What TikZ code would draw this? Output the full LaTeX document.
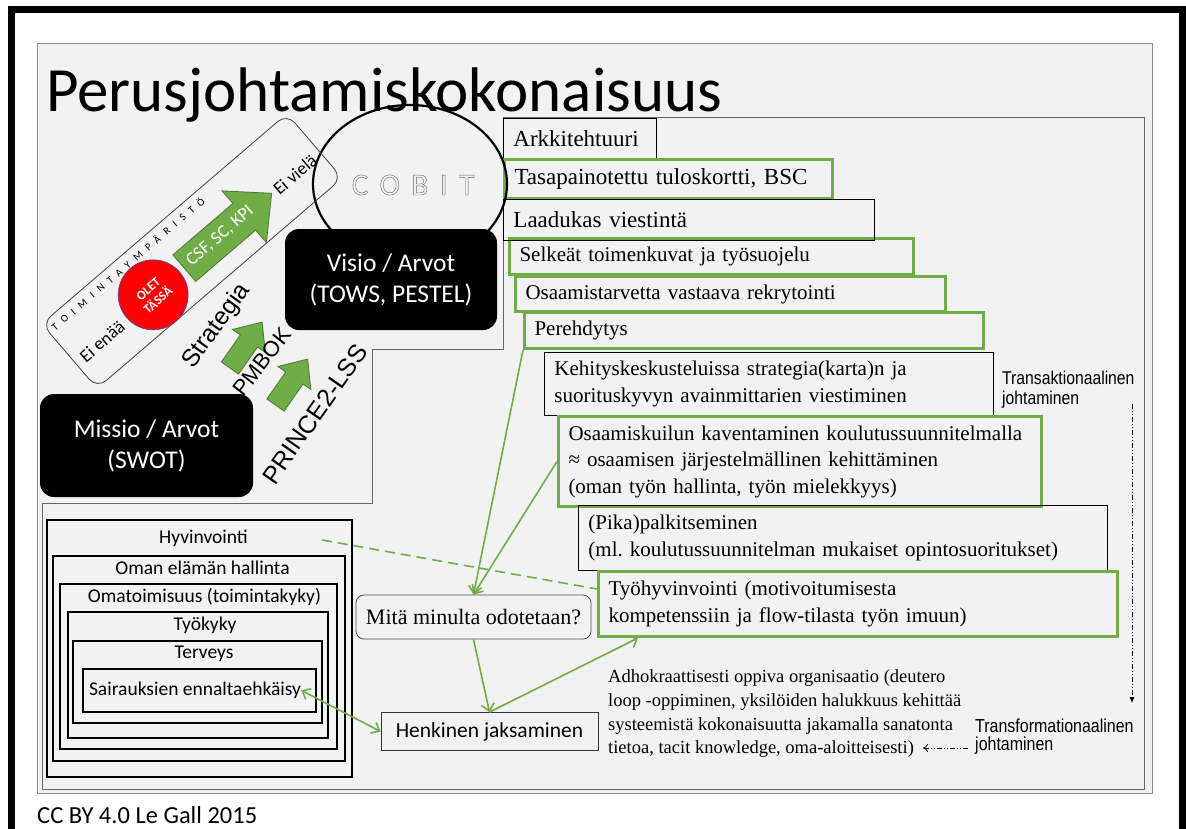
\documentclass[tikz,border=0pt]{standalone}
\usepackage{fontspec}
\setmainfont{Liberation Serif}
\newfontfamily\calibri{Carlito}
\newfontfamily\arial{Liberation Sans}
\newfontfamily\narrowsans[FakeStretch=0.85]{Liberation Sans}
\newfontfamily\spreadfont[LetterSpace=63]{Carlito}
\newfontfamily\cobitfont[LetterSpace=37]{Carlito}
\newcommand\hollow[1]{\special{pdf:literal direct 1 Tr}#1\special{pdf:literal direct 0 Tr}}
\frenchspacing
\usetikzlibrary{arrows.meta,positioning,shapes}
\definecolor{panel}{HTML}{F2F2F2}
\definecolor{ogreen}{HTML}{70AD47}
\definecolor{dgreen}{HTML}{507E32}
\definecolor{frame}{HTML}{8C8C8C}

\begin{document}
\begin{tikzpicture}[x=1pt,y=-1pt,
    stair/.style={draw=black, line width=0.9pt, anchor=north west, inner xsep=10pt, inner ysep=0pt, align=left},
    gstair/.style={stair, draw=ogreen, line width=3pt},
    big/.style={font=\fontsize{23}{27}\selectfont},
    mid/.style={font=\fontsize{21}{26.5}\selectfont},
    blackbox/.style={fill=black, rounded corners=14pt, text=white, align=center, font=\calibri\fontsize{25.5}{31}\selectfont},
    nest/.style={draw=black, line width=2.2pt},
    nesttext/.style={anchor=base, inner sep=0pt, font=\calibri\fontsize{19.5}{23}\selectfont},
    blockarrow/.style={fill=ogreen, draw=dgreen, line width=0.9pt},
    gline/.style={draw=ogreen, line width=1.6pt},
    garrow/.style={gline, -{Straight Barb[length=7pt,width=13pt]}},
    dashdot/.style={line width=0.7pt, dash pattern=on 5pt off 2pt on 1pt off 2pt on 1pt off 2pt},
    note/.style={font=\narrowsans\fontsize{18.5}{20}\selectfont, align=left, anchor=west, inner sep=0pt}]

    \clip (0,0) rectangle (1186,828);
    \fill[white] (0,0) rectangle (1186,828);
    \draw[line width=7pt] (11,840) -- (11,9) -- (1182,9) -- (1182,840);

    % panels
    \draw[frame, fill=panel, line width=0.9pt] (37,43) rectangle (1152,793);
    \draw[black!60, line width=0.9pt] (503,117) -- (1144,117) -- (1144,789) -- (42,789) -- (42,503) -- (372,503) -- (372,349) -- (503,349) -- cycle;

    \node[anchor=base west, inner sep=0pt, font=\calibri\fontsize{63}{70}\selectfont] (title) at (46,111) {Perusjohtamiskokonaisuus};

    % staircase
    \node[stair, big, text width=133pt, minimum height=40pt] (arkk) at (503,118) {Arkkitehtuuri};
    \node[gstair, big, text width=308pt, minimum height=39pt] (bsc) at (503,158) {Tasapainotettu tuloskortti, BSC};
    \node[gstair, mid, text width=384pt, minimum height=36pt] (selk) at (508,237) {Selkeät toimenkuvat ja työsuojelu};
    \node[stair, big, text width=351pt, minimum height=41pt] (laad) at (503,199) {Laadukas viestintä};
    \node[gstair, mid, text width=410pt, minimum height=35pt] (rekr) at (514,275) {Osaamistarvetta vastaava rekrytointi};
    \node[gstair, mid, text width=439pt, minimum height=36pt] (pereh) at (523,311) {Perehdytys};
    \node[stair, mid, text width=429pt, minimum height=63pt] (kehi) at (544,352) {Kehityskeskusteluissa strategia(karta)n ja\\suorituskyvyn avainmittarien viestiminen};
    \node[gstair, mid, text width=463pt, minimum height=90pt] (osk) at (557,415) {Osaamiskuilun kaventaminen koulutussuunnitelmalla\\≈ osaamisen järjestelmällinen kehittäminen\\(oman työn hallinta, työn mielekkyys)};
    \node[stair, mid, text width=509pt, minimum height=65pt] (pika) at (578,505) {(Pika)palkitseminen\\(ml. koulutussuunnitelman mukaiset opintosuoritukset)};
    \node[gstair, mid, text width=499pt, minimum height=65pt] (tyo) at (597,570) {Työhyvinvointi (motivoitumisesta\\kompetenssiin ja flow-tilasta työn imuun)};

    % cobit
    \draw[line width=2.2pt] (410,184) ellipse [x radius=97pt, y radius=79pt];
    \node[text=black!60, font=\cobitfont\fontsize{31}{36}\selectfont] (cobit) at (413,185) {\hollow{COBIT}};

    \node[blackbox, minimum width=212pt, minimum height=101pt] (visio) at (391,279.5) {Visio / Arvot\\(TOWS, PESTEL)};
    \node[blackbox, minimum width=213pt, minimum height=103pt] (missio) at (146.5,445.5) {Missio / Arvot\\(SWOT)};

    % toimintaymparisto
    \begin{scope}[shift={(192,251)}, rotate=40.6, transform shape]
      \node[draw=black!75, rounded corners=12pt, minimum width=323pt, minimum height=85pt, line width=0.8pt] (env) at (0,0) {};
      \node[font=\spreadfont\fontsize{10.5}{12}\selectfont, inner sep=0pt] (envname) at (-57,-32) {TOIMINTAYMPÄRISTÖ};
      \filldraw[fill=red, draw=blue!40!gray, line width=0.6pt] (-58,8) circle [radius=35pt];
      \node[text=white, align=center, inner sep=0pt, font=\calibri\bfseries\fontsize{13}{15}\selectfont] (olet) at (-58,8) {OLET\\TÄSSÄ};
      \draw[blockarrow] (-17,-9.5) -- (62,-9.5) -- (62,-26) -- (98,8) -- (62,42) -- (62,25.5) -- (-17,25.5) -- cycle;
      \node[text=white, font=\calibri\fontsize{18}{22}\selectfont, inner sep=0pt] (csf) at (31,7) {CSF, SC, KPI};
      \node[font=\calibri\fontsize{18}{22}\selectfont, inner sep=0pt] (enaa) at (-127,10) {Ei enää};
      \node[font=\calibri\fontsize{18}{22}\selectfont, inner sep=0pt] (viela) at (128,9) {Ei vielä};
    \end{scope}

    \begin{scope}[shift={(230,368)}, rotate=55]
      \draw[blockarrow] (0,-10.5) -- (33,-10.5) -- (33,-20) -- (56,0) -- (33,20) -- (33,10.5) -- (0,10.5) -- cycle;
    \end{scope}
    \begin{scope}[shift={(275.5,405)}, rotate=55]
      \draw[blockarrow] (0,-10.5) -- (33,-10.5) -- (33,-20) -- (56,0) -- (33,20) -- (33,10.5) -- (0,10.5) -- cycle;
    \end{scope}

    \node[rotate=54, inner sep=0pt, font=\arial\fontsize{24.5}{28}\selectfont] (strat) at (217,326) {Strategia};
    \node[rotate=52, inner sep=0pt, font=\arial\fontsize{22}{26}\selectfont] (pmbok) at (262,362) {PMBOK};
    \node[rotate=55, inner sep=0pt, font=\arial\fontsize{25}{29}\selectfont] (prince) at (315,414) {PRINCE2-LSS};

    % nested boxes
    \node[nest, minimum width=305pt, minimum height=257pt] (hyv) at (199.5,648.5) {};
    \node[nest, minimum width=292pt, minimum height=205pt] (oman) at (199,658.5) {};
    \node[nest, minimum width=277pt, minimum height=165pt] (omat) at (198.5,666.5) {};
    \node[nest, minimum width=260pt, minimum height=126pt] (tk) at (198,675) {};
    \node[nest, minimum width=249pt, minimum height=82pt] (terv) at (197.5,682) {};
    \node[nest, minimum width=233pt, minimum height=43pt] (sair) at (199.5,690.5) {};

    \node[nesttext] (hyvt) at (203.5,543.5) {Hyvinvointi};
    \node[nesttext] (omant) at (202.5,574.5) {Oman elämän hallinta};
    \node[nesttext] (omatt) at (204.5,602.5) {Omatoimisuus (toimintakyky)};
    \node[nesttext] (tkt) at (205,630.5) {Työkyky};
    \node[nesttext] (tervt) at (204,658.5) {Terveys};
    \node[nesttext] (sairt) at (195,695.5) {Sairauksien ennaltaehkäisy};

    \node[draw=black!70, rounded corners=8pt, minimum width=235pt, minimum height=44pt, line width=0.8pt, font=\fontsize{22}{26}\selectfont] (mita) at (473.5,617) {Mitä minulta odotetaan?};
    \node[draw=black!80, minimum width=217pt, minimum height=38pt, line width=0.8pt, font=\calibri\fontsize{21.5}{25}\selectfont] (henk) at (489.5,731.5) {Henkinen jaksaminen};

    \node[anchor=west, inner sep=0pt, align=left, font=\fontsize{18.5}{23.7}\selectfont] (adho) at (608,714) {Adhokraattisesti oppiva organisaatio (deutero\\loop -oppiminen, yksilöiden halukkuus kehittää\\systeemistä kokonaisuutta jakamalla sanatonta\\tietoa, tacit knowledge, oma-aloitteisesti)};

    \node[note] (transak) at (1002,390) {Transaktionaalinen\\johtaminen};
    \node[note, font=\narrowsans\fontsize{18.8}{18}\selectfont] (transf) at (975,737) {Transformationaalinen\\johtaminen};

    \node[anchor=base west, inner sep=0pt, font=\calibri\fontsize{24.5}{28}\selectfont] (cc) at (37,823) {CC BY 4.0 Le Gall 2015};

    % leadership arrows
    \coordinate (ddtop) at (1132,404);
    \coordinate (ddbot) at (1132,703);
    \coordinate (ddright) at (968,748);
    \coordinate (ddleft) at (923,748);
    \draw[dashdot, -{Latex[length=6pt,width=5pt]}] (ddtop) -- (ddbot);
    \draw[dashdot, -{To[length=5pt,width=8pt]}] (ddright) -- (ddleft);

    % green links
    \foreach \from/\to in {pereh.south west/mita.north, osk.west/mita.north, mita.south/henk.north}
    \draw[garrow] (\from) -- (\to);
    \draw[garrow] (henk.north) -- ([xshift=41pt]tyo.south west);
    \draw[gline, {Straight Barb[length=7pt,width=12pt]}-{Straight Barb[length=7pt,width=12pt]}] (sairt.east) -- (henk.west);
    \coordinate (hyvend) at (322,540);
    \draw[gline, dash pattern=on 10pt off 6pt] (hyvend) -- ([yshift=15pt]tyo.west);
\end{tikzpicture}
\end{document}
